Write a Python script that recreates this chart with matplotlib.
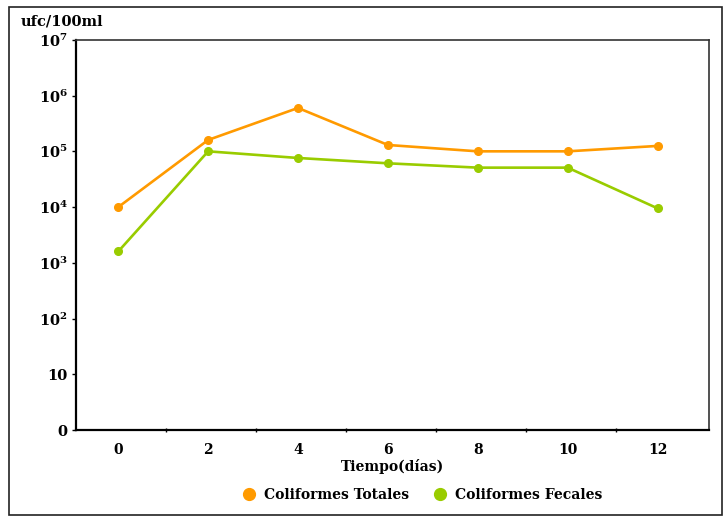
import numpy as np
import matplotlib.pyplot as plt
from matplotlib.patches import Rectangle
from matplotlib.lines import Line2D

# Datos
tiempo = ['0', '2', '4', '6', '8', '10', '12']
coliformes_totales = [1.0e4, 1.6e5, 6.0e5, 1.3e5, 1.0e5, 1.0e5, 1.25e5]
coliformes_fecales = [1.6e3, 1.0e5, 7.6e4, 6.1e4, 5.1e4, 5.1e4, 9.5e3]
ytick_labels = ['0', '10', r'$\mathbf{10^{2}}$', r'$\mathbf{10^{3}}$', r'$\mathbf{10^{4}}$',
                r'$\mathbf{10^{5}}$', r'$\mathbf{10^{6}}$', r'$\mathbf{10^{7}}$']

plt.rcParams['font.family'] = ['DejaVu Serif']
plt.rcParams['mathtext.fontset'] = 'dejavuserif'

naranja = '#FF9A00'
verde = '#99CC00'

fig = plt.figure(figsize=(7.24, 5.17), dpi=100)
ax = fig.add_axes([0.105, 0.168, 0.874, 0.755])

x = np.arange(len(tiempo))
ax.plot(x, coliformes_totales, color=naranja, lw=1.9, marker='o', ms=5.5, zorder=3)
ax.plot(x, coliformes_fecales, color=verde, lw=1.9, marker='o', ms=5.5, zorder=3)

ax.set_yscale('log')
ax.set_ylim(1, 1e7)
ax.set_yticks([10.0 ** k for k in range(8)])
ax.set_yticklabels(ytick_labels, fontsize=10.5, fontweight='bold')
ax.yaxis.set_minor_locator(plt.NullLocator())
ax.tick_params(axis='y', length=3, width=1, pad=3)

ax.set_xlim(-0.47, 6.57)
ax.set_xticks(x)
ax.set_xticklabels(tiempo, fontsize=10, fontweight='bold')
ax.set_xticks(x[:-1] + 0.533, minor=True)
ax.tick_params(axis='x', which='major', length=0, pad=9)
ax.tick_params(axis='x', which='minor', length=3, width=1, direction='inout')

for lado in ['left', 'bottom']:
    ax.spines[lado].set_linewidth(1.6)
for lado in ['top', 'right']:
    ax.spines[lado].set_linewidth(1.2)
    ax.spines[lado].set_color('#333333')

ax.set_xlabel('Tiempo(días)', fontsize=10, fontweight='bold', labelpad=2)
fig.text(0.028, 0.958, 'ufc/100ml', fontsize=10.5, fontweight='bold', va='center')

# Leyenda
handles = [Line2D([], [], color=naranja, marker='o', ls='', ms=8.5),
           Line2D([], [], color=verde, marker='o', ls='', ms=8.5)]
fig.legend(handles, ['Coliformes Totales', 'Coliformes Fecales'], loc='center',
           bbox_to_anchor=(0.578, 0.043), ncol=2, frameon=False, handletextpad=0.1,
           columnspacing=1.2, prop={'size': 10, 'weight': 'bold'})

# Marco exterior
fig.patches.append(Rectangle((0.012, 0.004), 0.985, 0.982, transform=fig.transFigure,
                             fill=False, edgecolor='#222222', lw=1.2))

plt.savefig('out.png', dpi=100)
